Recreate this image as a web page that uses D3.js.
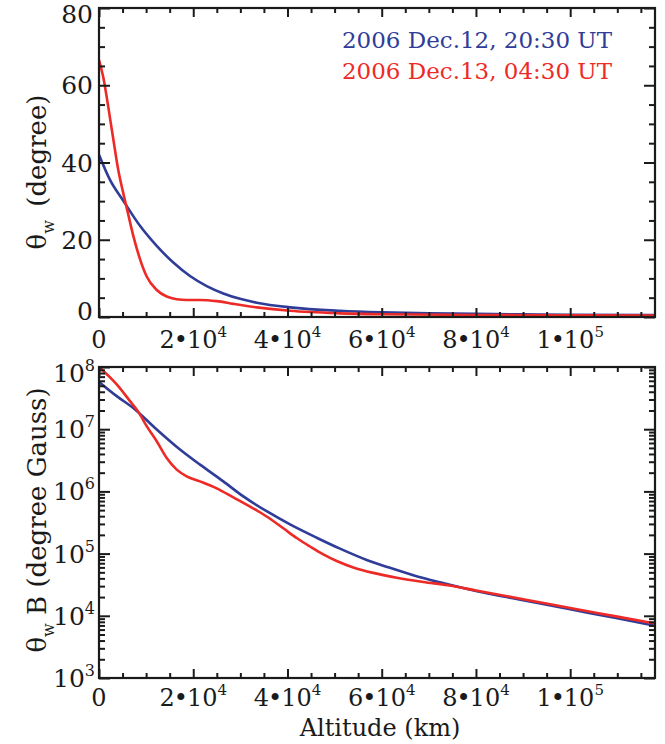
<!DOCTYPE html>
<html><head><meta charset="utf-8">
<script src="https://cdn.jsdelivr.net/npm/d3@7"></script>
<style>
html,body{margin:0;padding:0;background:#fff;}
text{font-family:"DejaVu Serif","Liberation Serif",serif;fill:#1a1a1a;}
</style></head>
<body>
<script>
// ---------------- data ----------------
const seriesNames = ["2006 Dec.12, 20:30 UT", "2006 Dec.13, 04:30 UT"];
const seriesColors = ["#2f3c98", "#ee2a27"];

// top panel: theta_w (degree) vs altitude (km)
const topBlueAlt = [0, 2335, 5160, 8700, 12250, 15770, 19310, 22860, 26380, 29920, 33470, 40540, 51150, 60000, 70000, 80000, 90000, 100000, 118000];
const topBlueVal = [42, 35.5, 30.1, 23.6, 18.4, 14.1, 10.6, 8.0, 6.1, 4.7, 3.7, 2.5, 1.6, 1.2, 0.95, 0.8, 0.7, 0.6, 0.5];
const topRedAlt = [0, 920, 1630, 2335, 3040, 4100, 5160, 6220, 7280, 8700, 10120, 12250, 14370, 16490, 18610, 21440, 24980, 28500, 33470, 40540, 51150, 60000, 80000, 100000, 118000];
const topRedVal = [66.5, 62, 57, 51.5, 46, 38, 32, 26.5, 21, 15, 10.5, 7.0, 5.3, 4.6, 4.4, 4.4, 4.1, 3.4, 2.5, 1.6, 0.95, 0.7, 0.5, 0.45, 0.4];

// bottom panel: theta_w * B (degree Gauss) vs altitude (km)
const botBlueAlt = [0, 3760, 7640, 12250, 17190, 21440, 26380, 30630, 35580, 40540, 46200, 51150, 56800, 61750, 66700, 72360, 80000, 90000, 100000, 110000, 118000];
const botBlueVal = [5.75e7, 3.40e7, 2.08e7, 9.9e6, 4.71e6, 2.69e6, 1.45e6, 8.3e5, 4.8e5, 2.95e5, 1.8e5, 1.2e5, 7.9e4, 5.9e4, 4.5e4, 3.45e4, 2.5e4, 1.78e4, 1.27e4, 9.1e3, 6.9e3];
const botRedAlt = [0, 3760, 6580, 8350, 10120, 12250, 14370, 16490, 18610, 21440, 24980, 28520, 32060, 35580, 39120, 41950, 44780, 47600, 50440, 53970, 58210, 63180, 68820, 74000, 80000, 90000, 100000, 110000, 118000];
const botRedVal = [1.0e8, 5.25e7, 2.83e7, 1.9e7, 1.12e7, 6.4e6, 3.44e6, 2.24e6, 1.75e6, 1.45e6, 1.12e6, 8.0e5, 5.7e5, 3.95e5, 2.55e5, 1.78e5, 1.3e5, 9.7e4, 7.6e4, 6.0e4, 4.9e4, 4.1e4, 3.5e4, 3.1e4, 2.55e4, 1.85e4, 1.33e4, 9.7e3, 7.5e3];

// ticks
const xTickValues = [0, 20000, 40000, 60000, 80000, 100000];
const xTickMantissa = ["0", "2", "4", "6", "8", "1"];
const xTickExponent = ["", "4", "4", "4", "4", "5"];
const topYTickValues = [0, 20, 40, 60, 80];
const botYTickValues = [1e3, 1e4, 1e5, 1e6, 1e7, 1e8];
const botYTickExponent = ["3", "4", "5", "6", "7", "8"];

// ---------------- drawing ----------------
const W = 665, H = 744;
const svg = d3.select("body").append("svg").attr("width", W).attr("height", H)
  .style("display", "block");

const x = d3.scaleLinear().domain([0, 118000]).range([99, 655]);
const yTop = d3.scaleLinear().domain([0, 80]).range([317, 8]);
const yBot = d3.scaleLog().domain([1e3, 1e8]).range([678, 367]);

const ink = "#1a1a1a";
const TICK_FONT = 24;
const xMinorValues = d3.range(0, 118001, 5000).filter(v => v % 20000 !== 0);

function clip(id, y) {
  const [yb, yt] = y.range();
  svg.append("clipPath").attr("id", id).append("rect")
    .attr("x", x.range()[0]).attr("y", yt)
    .attr("width", x.range()[1] - x.range()[0]).attr("height", yb - yt);
}
clip("clipTop", yTop);
clip("clipBot", yBot);

function drawLine(alts, vals, yScale, clipId, color) {
  const pts = alts.map((a, i) => [a, vals[i]]);
  svg.append("path").datum(pts)
    .attr("clip-path", `url(#${clipId})`)
    .attr("fill", "none").attr("stroke", color).attr("stroke-width", 2.6)
    .attr("stroke-linejoin", "round")
    .attr("d", d3.line().x(d => x(d[0])).y(d => yScale(d[1])).curve(d3.curveMonotoneX));
}
drawLine(topBlueAlt, topBlueVal, yTop, "clipTop", seriesColors[0]);
drawLine(topRedAlt, topRedVal, yTop, "clipTop", seriesColors[1]);
drawLine(botBlueAlt, botBlueVal, yBot, "clipBot", seriesColors[0]);
drawLine(botRedAlt, botRedVal, yBot, "clipBot", seriesColors[1]);

// frames + inward ticks drawn with d3 axes
function styleAxis(sel) {
  sel.select(".domain").remove();
  sel.selectAll(".tick line").attr("stroke", ink).attr("stroke-width", 2);
  sel.selectAll(".tick text").remove();
}
function frameAndTicks(y, yMajors, yMinors) {
  const L = x.range()[0], R = x.range()[1];
  const B = y.range()[0], T = y.range()[1];
  const specs = [
    [d3.axisBottom(x).tickValues(xTickValues).tickSize(-9), `translate(0,${B})`],
    [d3.axisBottom(x).tickValues(xMinorValues).tickSize(-5), `translate(0,${B})`],
    [d3.axisTop(x).tickValues(xTickValues).tickSize(-9), `translate(0,${T})`],
    [d3.axisTop(x).tickValues(xMinorValues).tickSize(-5), `translate(0,${T})`],
    [d3.axisLeft(y).tickValues(yMajors).tickSize(-11), `translate(${L},0)`],
    [d3.axisLeft(y).tickValues(yMinors).tickSize(-6), `translate(${L},0)`],
    [d3.axisRight(y).tickValues(yMajors).tickSize(-11), `translate(${R},0)`],
    [d3.axisRight(y).tickValues(yMinors).tickSize(-6), `translate(${R},0)`]
  ];
  specs.forEach(([ax, tr]) => {
    svg.append("g").attr("transform", tr).call(ax.tickFormat(() => "")).call(styleAxis);
  });
  svg.append("rect").attr("x", L).attr("y", T).attr("width", R - L).attr("height", B - T)
    .attr("fill", "none").attr("stroke", ink).attr("stroke-width", 2.2);
}
const topMinors = d3.range(0, 81, 5).filter(v => v % 20 !== 0);
const botMinors = [];
for (let e = 3; e < 8; e++) for (let m = 2; m <= 9; m++) botMinors.push(m * Math.pow(10, e));
frameAndTicks(yTop, topYTickValues, topMinors);
frameAndTicks(yBot, botYTickValues, botMinors);

// x tick labels
function xLabels(baseline) {
  xTickValues.forEach((v, i) => {
    const t = svg.append("text").attr("x", x(v)).attr("y", baseline)
      .attr("text-anchor", "middle").attr("font-size", TICK_FONT);
    if (xTickExponent[i] === "") {
      t.text(xTickMantissa[i]);
    } else {
      t.append("tspan").text(xTickMantissa[i]);
      t.append("tspan").attr("dx", -1).text("\u2022");
      t.append("tspan").attr("dx", -1).text("10");
      t.append("tspan").attr("dy", -11).attr("font-size", 15).text(xTickExponent[i]);
    }
  });
}
xLabels(348);
xLabels(706);

// y tick labels
topYTickValues.forEach(v => {
  const shift = v === 80 ? 6 : (v === 0 ? -6 : 0);
  svg.append("text").attr("x", 93).attr("y", yTop(v) + shift).attr("dy", "0.36em")
    .attr("text-anchor", "end").attr("font-size", 25).text(v);
});
botYTickValues.forEach((v, i) => {
  const shift = v === 1e8 ? 6 : 0;
  const t = svg.append("text").attr("x", 95).attr("y", yBot(v) + shift).attr("dy", "0.36em")
    .attr("text-anchor", "end").attr("font-size", 25);
  t.append("tspan").text("10");
  t.append("tspan").attr("dy", -11).attr("font-size", 16).text(botYTickExponent[i]);
});

// legend
seriesNames.forEach((n, i) => {
  svg.append("text").attr("x", 342).attr("y", 48 + i * 31)
    .attr("font-size", 23).attr("textLength", 270).attr("lengthAdjust", "spacingAndGlyphs")
    .style("fill", seriesColors[i]).text(n);
});

// axis titles
const t1 = svg.append("text").attr("transform", "translate(46,172) rotate(-90)")
  .attr("text-anchor", "middle").attr("font-size", 26);
t1.append("tspan").text("\u03b8");
t1.append("tspan").attr("dy", 8).attr("font-size", 16).text("w");
t1.append("tspan").attr("dy", -8).text("\u2009 (degree)");

const t2 = svg.append("text").attr("transform", "translate(46,520) rotate(-90)")
  .attr("text-anchor", "middle").attr("font-size", 26);
t2.append("tspan").text("\u03b8");
t2.append("tspan").attr("dy", 8).attr("font-size", 16).text("w");
t2.append("tspan").attr("dy", -8).text(" B (degree Gauss)");

svg.append("text").attr("x", 380).attr("y", 736).attr("text-anchor", "middle")
  .attr("font-size", 24).text("Altitude (km)");
</script>
</body></html>
